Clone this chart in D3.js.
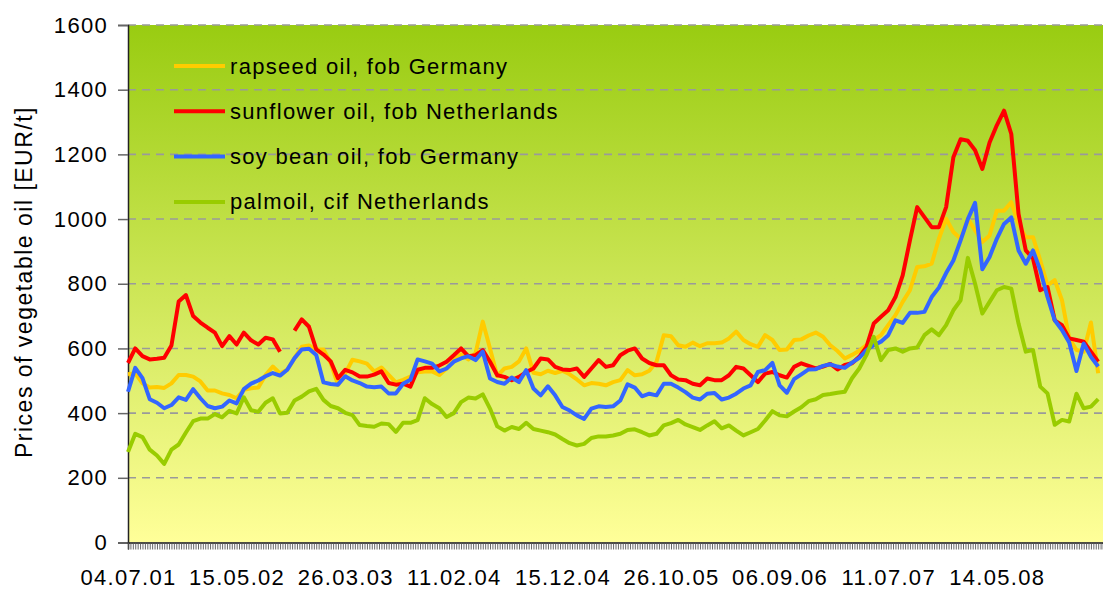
<!DOCTYPE html>
<html>
<head>
<meta charset="utf-8">
<script src="https://cdn.jsdelivr.net/npm/d3@7"></script>
<style>
  body { margin: 0; background: #ffffff; }
  svg { display: block; }
  text { font-family: "Liberation Sans", Arial, sans-serif; fill: #000; }
</style>
</head>
<body>
<svg id="chart" width="1103" height="590"></svg>
<script>
// ---------- data ----------
const weekCount = 404;          // weekly categories on the x axis
const sampleStep = 3;           // series values read every 3rd week
const tickEvery = 45;           // a date label every 45 weeks
const tickLabels = ["04.07.01", "15.05.02", "26.03.03", "11.02.04", "15.12.04",
                    "26.10.05", "06.09.06", "11.07.07", "14.05.08"];
const yTicks = [0, 200, 400, 600, 800, 1000, 1200, 1400, 1600];
const seriesNames = ["rapseed oil, fob Germany", "sunflower oil, fob Netherlands",
                     "soy bean oil, fob Germany", "palmoil, cif Netherlands"];
const seriesColors = ["#FFCC00", "#FF0000", "#3366FF", "#99CC00"];

const rapeseed = [520,523,492,479,481,478,492,518,518,513,498,470,470,461,456,446,472,477,479,518,
  544,523,534,570,605,609,597,597,555,487,523,565,560,553,529,541,518,495,503,513,
  526,529,529,518,538,564,582,566,585,683,600,515,538,543,560,600,525,520,531,524,
  531,520,504,486,493,491,486,496,502,533,517,520,531,559,641,638,610,605,618,607,
  616,616,618,631,652,626,613,605,641,626,595,597,626,628,640,649,636,610,592,569,
  580,593,610,626,641,672,703,744,780,852,854,862,939,1001,960,939,1001,965,929,949,
  1026,1026,1052,985,944,944,872,795,811,749,631,595,590,680,523];

const sunflower = [555,600,576,566,568,571,609,745,765,700,680,664,649,607,638,612,649,625,612,633,
  628,590,null,655,690,667,597,581,560,508,534,526,513,513,519,529,493,488,491,482,
  534,540,540,547,559,579,600,576,579,595,559,517,512,502,512,527,538,569,566,543,
  535,533,538,512,538,564,543,548,579,593,600,569,555,548,548,517,504,502,491,486,
  507,502,502,517,543,538,517,496,522,527,517,510,543,554,546,538,544,552,535,549,
  554,574,605,677,698,718,759,826,934,1037,1006,975,975,1037,1191,1247,1242,1213,1155,1237,
  1290,1335,1263,1016,903,878,780,790,687,672,631,626,621,590,559];

const soybean = [466,540,508,443,432,415,425,449,441,474,446,422,415,420,439,430,474,491,501,514,
  524,516,534,570,597,599,580,495,490,488,514,501,493,482,480,482,461,461,491,503,
  566,560,553,529,538,559,569,576,564,590,507,496,491,510,496,533,476,455,483,455,
  419,408,393,382,414,421,419,421,439,489,479,452,460,455,491,491,479,465,448,442,
  460,462,442,448,460,476,486,527,533,555,486,463,505,520,535,536,546,551,544,540,
  556,571,595,610,621,641,687,679,710,710,713,759,788,833,872,934,1000,1050,845,883,
  939,985,1005,903,862,903,842,759,687,657,618,530,615,574,544];

const palmoil = [280,336,326,287,269,243,287,303,340,375,383,383,397,387,407,399,449,409,404,432,
  446,399,401,439,451,467,475,441,422,415,401,394,363,360,358,368,366,342,370,370,
  378,446,428,415,388,400,434,448,445,458,414,359,346,357,351,370,351,346,341,334,
  320,307,300,305,323,328,328,331,336,348,350,341,331,336,362,369,379,365,357,348,
  362,375,353,362,346,331,341,351,377,406,393,390,405,418,437,443,456,459,463,466,
  508,538,580,636,564,595,600,590,600,603,641,659,641,672,718,749,880,800,708,744,
  780,790,785,677,590,595,482,461,364,379,374,460,415,420,443];

const seriesValues = [rapeseed, sunflower, soybean, palmoil];

// ---------- layout ----------
const plot = { left: 128, right: 1103, top: 25, bottom: 542.5 };
const font = { size: 22, spacing: "1.3px" };

const svg = d3.select("#chart");

const x = d3.scaleLinear().domain([0, weekCount]).range([plot.left, plot.right]);
const y = d3.scaleLinear().domain([0, 1600]).range([plot.bottom, plot.top]);

// background gradient
const defs = svg.append("defs");
const grad = defs.append("linearGradient").attr("id", "bg")
  .attr("x1", 0).attr("y1", 0).attr("x2", 0).attr("y2", 1);
grad.append("stop").attr("offset", "0%").attr("stop-color", "#99CC11");
grad.append("stop").attr("offset", "100%").attr("stop-color", "#FFFF99");

svg.append("rect")
  .attr("x", plot.left).attr("y", plot.top)
  .attr("width", plot.right - plot.left).attr("height", plot.bottom - plot.top)
  .attr("fill", "url(#bg)");

// gridlines
svg.append("g").selectAll("line")
  .data(yTicks.filter(d => d > 0))
  .join("line")
  .attr("x1", plot.left).attr("x2", plot.right)
  .attr("y1", d => y(d)).attr("y2", d => y(d))
  .attr("stroke", "#9a9a9a").attr("stroke-width", 1.6)
  .attr("stroke-dasharray", "8,6");

// y axis
const yAxis = svg.append("g")
  .attr("transform", `translate(${plot.left},0)`)
  .call(d3.axisLeft(y).tickValues(yTicks).tickSize(10).tickPadding(10).tickFormat(d3.format("d")));
yAxis.select(".domain").attr("stroke", "#222").attr("stroke-width", 1.5);
yAxis.selectAll(".tick line").attr("stroke", "#666").attr("stroke-width", 1.5);
yAxis.selectAll(".tick text")
  .attr("font-size", font.size).style("letter-spacing", font.spacing)
  .attr("font-family", "Liberation Sans, Arial, sans-serif");

// x axis
const xAxis = svg.append("g")
  .attr("transform", `translate(0,${plot.bottom})`)
  .call(d3.axisBottom(x)
    .tickValues(d3.range(0, weekCount + 1))
    .tickSize(7).tickPadding(20)
    .tickFormat(w => (w % tickEvery === 0 && w / tickEvery < tickLabels.length) ? tickLabels[w / tickEvery] : ""));
xAxis.select(".domain").attr("stroke", "#111").attr("stroke-width", 1.5);
xAxis.selectAll(".tick line").attr("stroke", "#555").attr("stroke-width", 0.9);
xAxis.selectAll(".tick text")
  .attr("font-size", font.size).style("letter-spacing", font.spacing)
  .attr("font-family", "Liberation Sans, Arial, sans-serif");

// y axis title
svg.append("text")
  .attr("transform", `translate(24,282) rotate(-90)`)
  .attr("text-anchor", "middle")
  .attr("dominant-baseline", "central")
  .attr("font-size", 23)
  .style("letter-spacing", "1.5px")
  .text("Prices of vegetable oil [EUR/t]");

// series lines
const line = d3.line()
  .defined(d => d !== null)
  .x((d, i) => x(i * sampleStep))
  .y(d => y(d));

svg.append("g").selectAll("path")
  .data(seriesValues)
  .join("path")
  .attr("d", d => line(d))
  .attr("fill", "none")
  .attr("stroke", (d, i) => seriesColors[i])
  .attr("stroke-width", 4)
  .attr("stroke-linejoin", "round")
  .attr("stroke-linecap", "butt");

// legend
const legend = svg.append("g");
const legendRow = legend.selectAll("g")
  .data(seriesNames)
  .join("g")
  .attr("transform", (d, i) => `translate(174,${66 + i * 45.3})`);
legendRow.append("line")
  .attr("x1", 0).attr("x2", 51).attr("y1", 0).attr("y2", 0)
  .attr("stroke", (d, i) => seriesColors[i]).attr("stroke-width", 4);
legendRow.append("text")
  .attr("x", 56).attr("y", 0)
  .attr("dominant-baseline", "central")
  .attr("font-size", font.size)
  .style("letter-spacing", font.spacing)
  .text(d => d);
</script>
</body>
</html>
